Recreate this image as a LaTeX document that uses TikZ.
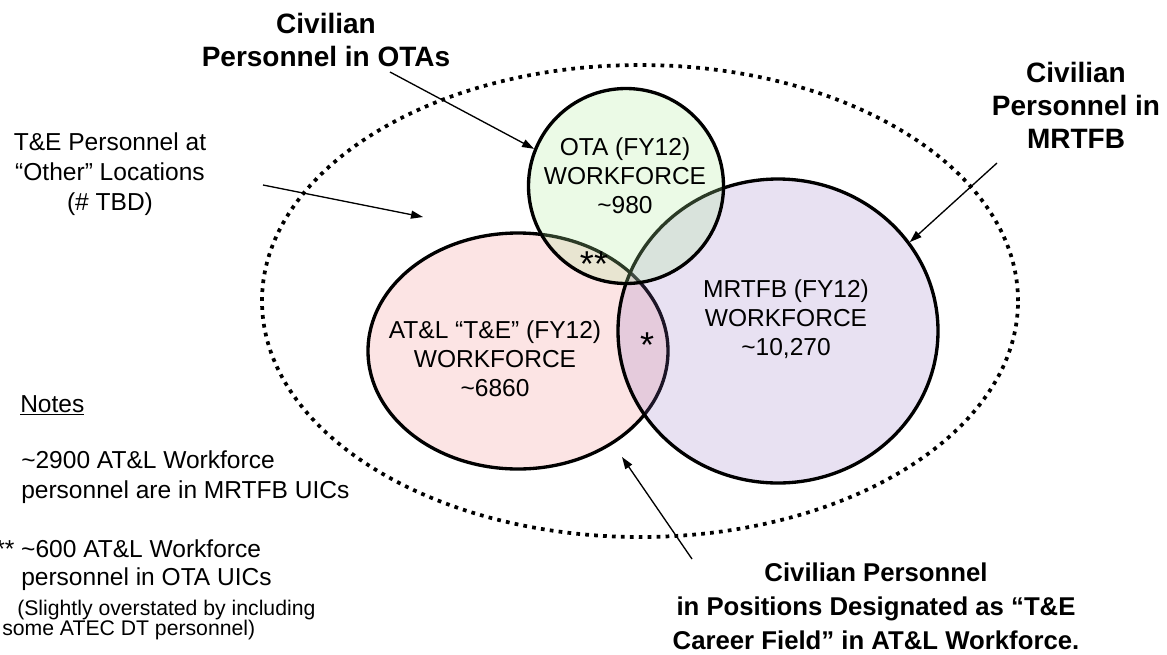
\documentclass[tikz,border=0pt]{standalone}
\usepackage{fontspec}
\setmainfont{Liberation Sans}
\usetikzlibrary{arrows.meta,shapes.geometric}
\definecolor{otafill}{RGB}{175,235,155}
\definecolor{atlfill}{RGB}{252,228,228}
\definecolor{mrtfill}{RGB}{140,105,190}
\begin{document}
\begin{tikzpicture}[x=0.75pt,y=-0.75pt,
  setshape/.style={ellipse, draw=black, line width=2.5pt, inner sep=0pt},
  boundary/.style={ellipse, draw=black, line width=2.8pt, dash pattern=on 2.8pt off 3.9pt, inner sep=0pt},
  intext/.style={font=\fontsize{18.4}{22}\selectfont, align=center, inner sep=0pt, anchor=north},
  plain/.style={font=\fontsize{18.4}{22.5}\selectfont, align=center, inner sep=0pt, anchor=north},
  heading/.style={font=\fontsize{21}{24.75}\selectfont\bfseries, align=center, inner sep=0pt, anchor=north},
  note/.style={font=\fontsize{18.4}{22.5}\selectfont, align=left, inner sep=0pt, anchor=north west},
  pointer/.style={line width=1pt, -{Triangle[length=9pt,width=6pt]}},
  starmark/.style={font=\fontsize{27}{27}\selectfont, inner sep=0pt, anchor=base},
]
\useasboundingbox (0,0) rectangle (1167,654);

% outer dotted boundary of all T&E personnel
\node[boundary, minimum width=567pt, minimum height=354pt] (all) at (640,301) {};

% the three workforce sets, drawn back to front
\node[setshape, fill=atlfill, minimum width=225pt, minimum height=177pt] (atl) at (518,351) {};
\node[setshape, fill=mrtfill, fill opacity=0.2, minimum width=240pt, minimum height=228pt] (mrt) at (778,331) {};
\node[setshape, fill=otafill, fill opacity=0.25, minimum width=146.25pt, minimum height=146.25pt] (ota) at (626,186) {};

% set contents
\node[intext] (otaTxt) at (625,137) {OTA (FY12)\\WORKFORCE\\\textasciitilde980};
\node[intext] (atlTxt) at (495,320) {AT\&L “T\&E” (FY12)\\WORKFORCE\\\textasciitilde6860};
\node[intext] (mrtTxt) at (786,279) {MRTFB (FY12)\\WORKFORCE\\\textasciitilde10,270};

% overlap markers
\node[starmark] (twoStar) at (594,276) {**};
\node[starmark] (oneStar) at (647,357) {*};

% outside labels
\node[heading] (otaLbl) at (326,12.5) {Civilian\\Personnel in OTAs};
\node[heading] (mrtLbl) at (1076,61.5) {Civilian\\Personnel in\\MRTFB};
\node[heading, font=\fontsize{19.3}{25.5}\selectfont\bfseries] (careerLbl) at (876,563)
  {Civilian Personnel\\in Positions Designated as “T\&E\\Career Field” in AT\&L Workforce.};
\node[plain] (otherLbl) at (110,132) {T\&E Personnel at\\“Other” Locations\\(\# TBD)};

% pointers
\coordinate (otaFrom) at (390,72);
\coordinate (mrtFrom) at (997,163);
\coordinate (otherFrom) at (263,185);
\coordinate (otherTip) at (423,217);
\coordinate (careerFrom) at (692,559);
\coordinate (careerTip) at (622,457);
\draw[pointer] (otaFrom) -- (ota.158);
\draw[pointer] (mrtFrom) -- (mrt.34);
\draw[pointer] (otherFrom) -- (otherTip);
\draw[pointer] (careerFrom) -- (careerTip);

% notes
\node[note] (notesHd) at (20,395) {\underline{Notes}};
\node[note] (note1) at (21,450) {\textasciitilde2900 AT\&L Workforce\\personnel are in MRTFB UICs};
\node[note, font=\fontsize{18.4}{21}\selectfont] (note2) at (21,539) {\llap{** }\textasciitilde600 AT\&L Workforce\\personnel in OTA UICs};
\node[note, font=\fontsize{15.9}{15}\selectfont] (note2b) at (2,600) {\hspace*{11.25pt}(Slightly overstated by including\\some ATEC DT personnel)};
\end{tikzpicture}
\end{document}
